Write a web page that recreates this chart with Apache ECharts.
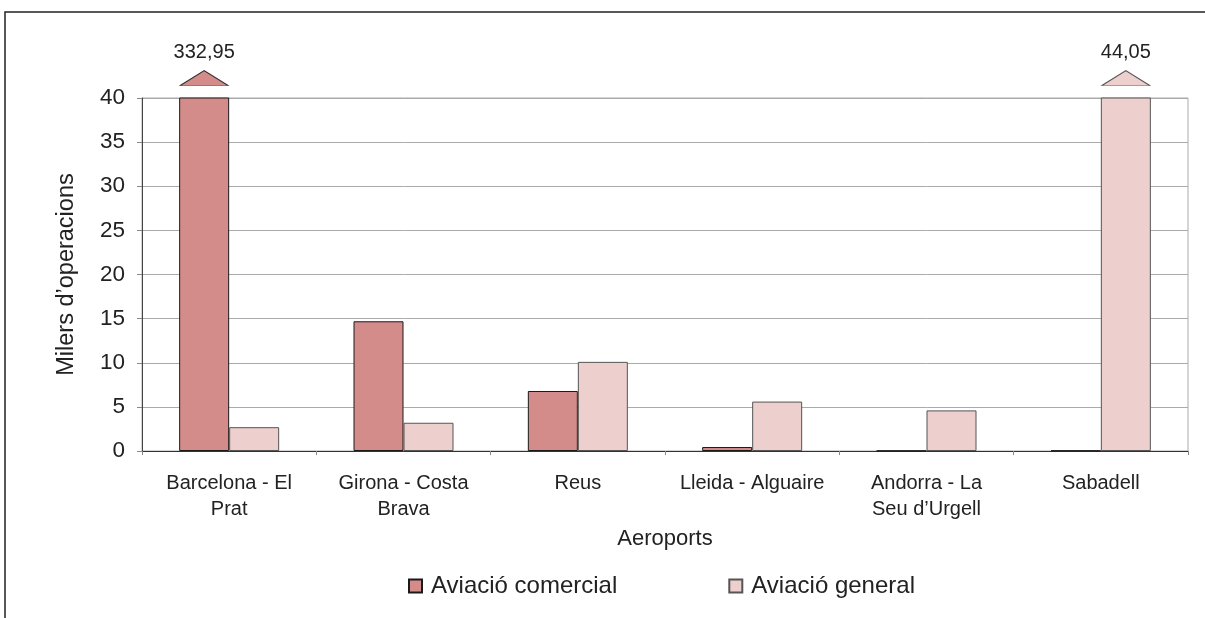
<!DOCTYPE html>
<html>
<head>
<meta charset="utf-8">
<script src="https://cdn.jsdelivr.net/npm/echarts@6/dist/echarts.min.js"></script>
<style>html,body{margin:0;padding:0;background:#fff}#c{width:1205px;height:618px}</style>
</head>
<body>
<div id="c"></div>
<script>
const categories = ['Barcelona - El\nPrat', 'Girona - Costa\nBrava', 'Reus', 'Lleida - Alguaire', 'Andorra - La\nSeu d\u2019Urgell', 'Sabadell'];
const comercial = [332.95, 14.7, 6.8, 0.45, 0.03, 0.04];
const general = [2.7, 3.2, 10.1, 5.6, 4.6, 44.05];
const seriesNames = ['Aviació comercial', 'Aviació general'];
const yTicks = { min: 0, max: 40, interval: 5 };

const FONT = 'Liberation Sans';
const fmt = v => v.toFixed(2).replace('.', ',');

function overflowMarks(values, color, border) {
  return {
    symbol: 'triangle',
    symbolSize: [48, 15],
    symbolOffset: [0, -20],
    itemStyle: { color: color, borderColor: border, borderWidth: 1 },
    label: { show: true, position: 'top', distance: 8, color: '#222', fontFamily: FONT, fontSize: 20,
             formatter: p => fmt(p.value) },
    data: values.map((v, i) => v > yTicks.max ? { coord: [i, yTicks.max], value: v } : null).filter(Boolean)
  };
}

const chart = echarts.init(document.getElementById('c'), null, { renderer: 'canvas' });
chart.setOption({
  animation: false,
  graphic: [{
    type: 'rect', shape: { x: 5, y: 12, width: 1260, height: 700 },
    style: { fill: 'none', stroke: '#222', lineWidth: 1.5 }, z: -10
  }],
  grid: { left: 142, right: 17, top: 98, bottom: 167, show: true, borderColor: '#aaa', borderWidth: 1 },
  legend: {
    left: 403, top: 569, itemWidth: 13, itemHeight: 13, itemGap: 111,
    icon: 'rect',
    textStyle: { fontFamily: FONT, fontSize: 24, color: '#222', padding: [0, 0, 0, 4] },
    data: seriesNames
  },
  xAxis: {
    type: 'category', data: categories,
    name: 'Aeroports', nameLocation: 'middle', nameGap: 77,
    nameTextStyle: { fontFamily: FONT, fontSize: 22, color: '#222' },
    axisLine: { lineStyle: { color: '#333', width: 1 } },
    axisTick: { show: true, length: 4, lineStyle: { color: '#888' } },
    axisLabel: { fontFamily: FONT, fontSize: 20, color: '#222', margin: 19, lineHeight: 26, interval: 0 }
  },
  yAxis: {
    type: 'value', min: yTicks.min, max: yTicks.max, interval: yTicks.interval,
    name: 'Milers d\u2019operacions', nameLocation: 'middle', nameGap: 63,
    nameTextStyle: { fontFamily: FONT, fontSize: 23.5, color: '#222' },
    axisLine: { show: true, lineStyle: { color: '#444', width: 1 } },
    axisTick: { show: true, length: 5, lineStyle: { color: '#888' } },
    axisLabel: { fontFamily: FONT, fontSize: 22.5, color: '#222', margin: 17 },
    splitLine: { lineStyle: { color: '#aaa', width: 1 } }
  },
  series: [
    {
      name: seriesNames[0], type: 'bar', data: comercial, barWidth: 50, barGap: '0%', clip: true,
      itemStyle: { color: '#d48c8a', borderColor: '#1a1a1a', borderWidth: 1 },
      markPoint: overflowMarks(comercial, '#d48c8a', '#333')
    },
    {
      name: seriesNames[1], type: 'bar', data: general, barWidth: 50, barGap: '0%', clip: true,
      itemStyle: { color: '#edcfcd', borderColor: '#555', borderWidth: 1 },
      markPoint: overflowMarks(general, '#edcfcd', '#555')
    }
  ]
});
</script>
</body>
</html>
